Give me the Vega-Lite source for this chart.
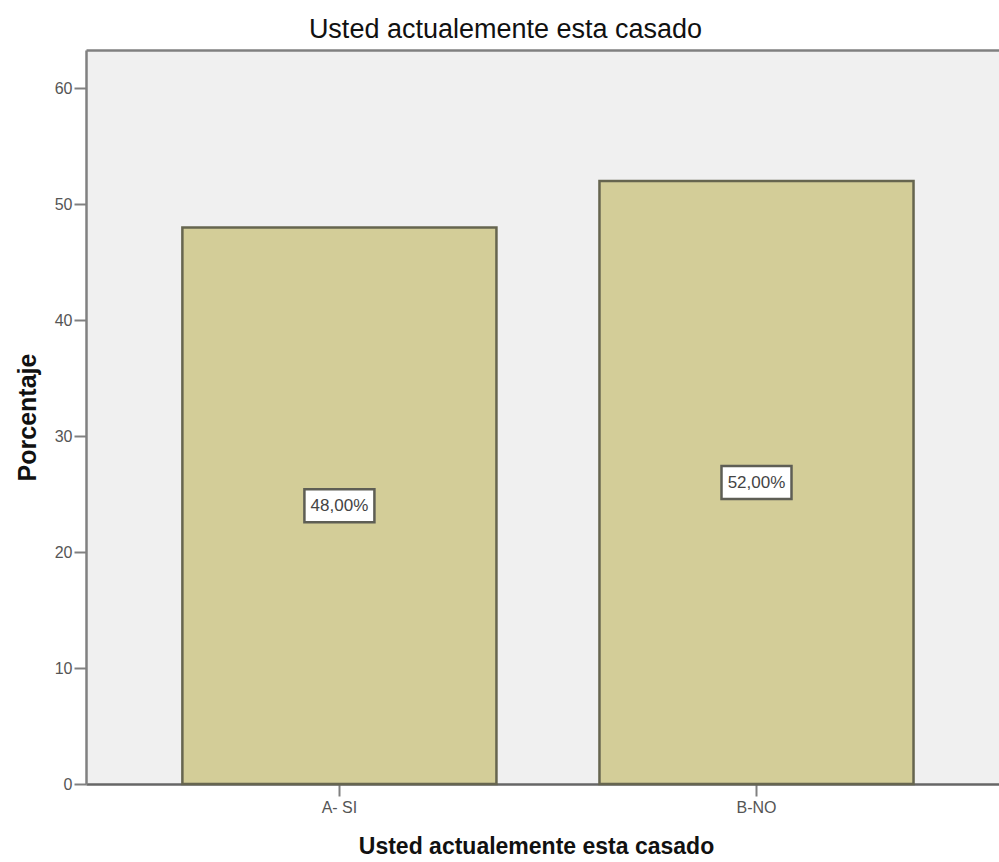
{
  "$schema": "https://vega.github.io/schema/vega-lite/v6.json",
  "width": 913,
  "height": 734,
  "autosize": "none",
  "padding": {"left": 86, "top": 50, "right": 0, "bottom": 78},
  "background": "white",
  "config": {
    "view": {"stroke": null, "fill": "#f0f0f0"},
    "font": "Liberation Sans, Arial, sans-serif"
  },
  "title": {
    "text": "Usted actualemente esta casado",
    "fontSize": 27,
    "fontWeight": "normal",
    "color": "#111111",
    "offset": 6,
    "dx": -37,
    "anchor": "middle"
  },
  "data": {
    "values": [
      {"categoria": "A- SI", "porcentaje": 48, "etiqueta": "48,00%"},
      {"categoria": "B-NO", "porcentaje": 52, "etiqueta": "52,00%"}
    ]
  },
  "resolve": {"scale": {"y": "independent"}, "axis": {"x": "independent", "y": "independent"}},
  "layer": [
    {
      "mark": {"type": "bar", "fill": "#d3cd98", "stroke": "#66654f", "strokeWidth": 2.5},
      "encoding": {
        "x": {
          "field": "categoria",
          "type": "nominal",
          "sort": null,
          "scale": {"paddingInner": 0.247, "paddingOuter": 0.218, "align": 0.53},
          "axis": {
            "orient": "bottom",
            "title": "Usted actualemente esta casado",
            "titleFontSize": 23,
            "titleFontWeight": "bold",
            "titleColor": "#111111",
            "titlePadding": 20,
            "titleX": 450,
            "labelAngle": 0,
            "labelFontSize": 16,
            "labelColor": "#555555",
            "labelPadding": 3,
            "tickSize": 12,
            "tickColor": "#808080",
            "tickWidth": 2,
            "domainColor": "#666666",
            "domainWidth": 2.5
          }
        },
        "y": {
          "field": "porcentaje",
          "type": "quantitative",
          "scale": {"domain": [0, 63.3], "nice": false},
          "axis": {
            "title": "Porcentaje",
            "titleFontSize": 25,
            "titleFontWeight": "bold",
            "titleColor": "#111111",
            "titlePadding": 14,
            "values": [0, 10, 20, 30, 40, 50, 60],
            "grid": false,
            "labelFontSize": 16,
            "labelColor": "#555555",
            "labelPadding": 2,
            "tickSize": 12,
            "tickColor": "#808080",
            "tickWidth": 2,
            "domainColor": "#808080",
            "domainWidth": 2.5
          }
        }
      }
    },
    {
      "encoding": {
        "x": {
          "field": "categoria",
          "type": "nominal",
          "sort": null,
          "axis": {
            "orient": "top",
            "title": null,
            "labels": false,
            "ticks": false,
            "domainColor": "#808080",
            "domainWidth": 2.5
          }
        },
        "y": {
          "field": "porcentaje",
          "type": "quantitative",
          "scale": {"domain": [0, 126.6], "nice": false},
          "axis": null
        }
      },
      "layer": [
        {
          "mark": {
            "type": "point",
            "shape": "M-1,-0.47L1,-0.47L1,0.47L-1,0.47Z",
            "size": 4900,
            "filled": false,
            "fill": "white",
            "fillOpacity": 1,
            "stroke": "#5e5e55",
            "strokeWidth": 2.5,
            "opacity": 1
          }
        },
        {
          "mark": {"type": "text", "fontSize": 17, "color": "#444444", "align": "center", "baseline": "middle"},
          "encoding": {"text": {"field": "etiqueta"}}
        }
      ]
    }
  ]
}
